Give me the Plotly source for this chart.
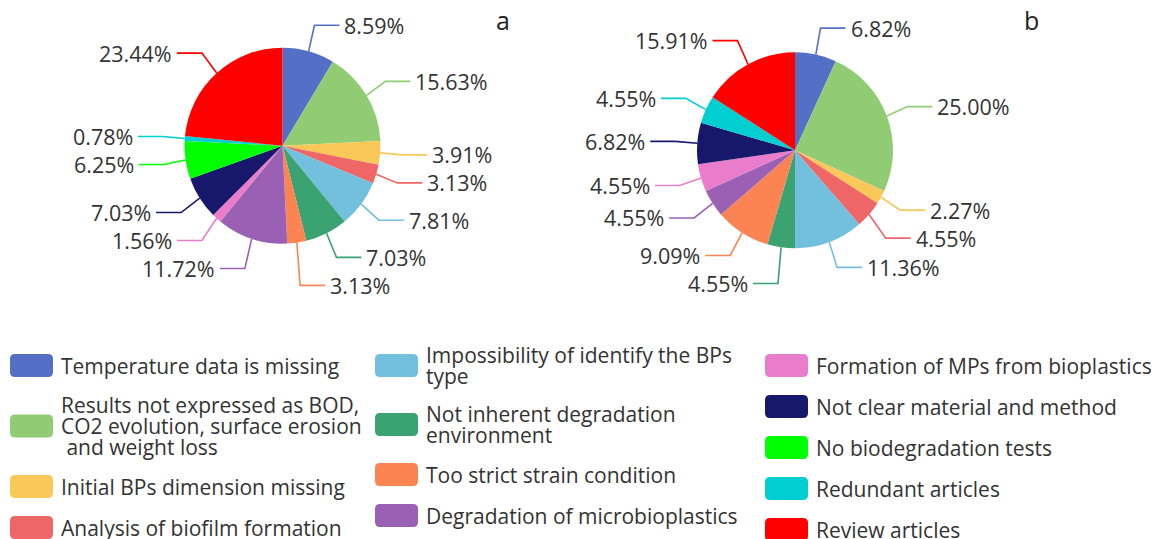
import math
import plotly.graph_objects as go

W, H = 1159, 539

# ---------------- data ----------------
categories = [
    "Temperature data is missing",
    "Results not expressed as BOD,\nCO2 evolution, surface erosion\n\u00a0and weight loss",
    "Initial BPs dimension missing",
    "Analysis of biofilm formation",
    "Impossibility of identify the BPs\ntype",
    "Not inherent degradation\nenvironment",
    "Too strict strain condition",
    "Degradation of microbioplastics",
    "Formation of MPs from bioplastics",
    "Not clear material and method",
    "No biodegradation tests",
    "Redundant articles",
    "Review articles",
]
colors = ["#5470c6", "#91cc75", "#fac858", "#ee6666", "#73c0de", "#3ba272",
          "#fc8452", "#9a60b4", "#ea7ccc", "#17176b", "#00ff00", "#00ced1", "#ff0000"]

values_a = [8.59, 15.63, 3.91, 3.13, 7.81, 7.03, 3.13, 11.72, 1.56, 7.03, 6.25, 0.78, 23.44]
values_b = [6.82, 25.00, 2.27, 4.55, 11.36, 4.55, 9.09, 4.55, 4.55, 6.82, 0.00, 4.55, 15.91]
panel_titles = ["a", "b"]
legend_columns = [[0, 1, 2, 3], [4, 5, 6, 7], [8, 9, 10, 11, 12]]

# ---------------- layout parameters ----------------
FONT = "Open Sans"
TEXT_COLOR = "#333333"
pies = [
    dict(values=values_a, cx=282.5, cy=145.7, r=98, title_xy=(503, 20)),
    dict(values=values_b, cx=795.0, cy=150.3, r=98, title_xy=(1031, 20)),
]
R_LABEL = 27     # radial offset used for label height
R_ELBOW = 22     # radial offset of elbow x
SEG2 = 25        # horizontal segment
MIN_GAP = 28     # min vertical gap between labels on one side
LABEL_SIZE = 21.5

flat_names = [c.replace("\n", " ").replace("\u00a0", "") for c in categories]

fig = go.Figure()
annotations = []
shapes = []

for p, ttl in zip(pies, panel_titles):
    vals, cx, cy, r = p["values"], p["cx"], p["cy"], p["r"]
    fig.add_trace(go.Pie(
        values=vals, labels=flat_names, sort=False, direction="clockwise", rotation=0,
        marker=dict(colors=colors, line=dict(width=0)), textinfo="none",
        domain=dict(x=[(cx - r) / W, (cx + r) / W], y=[1 - (cy + r) / H, 1 - (cy - r) / H]),
        showlegend=False, hoverinfo="label+percent",
    ))
    total = sum(vals)
    items = []
    cum = 0.0
    for i, v in enumerate(vals):
        if v <= 0:
            continue
        ang = (cum + v / 2) / total * 2 * math.pi
        cum += v
        s, c = math.sin(ang), math.cos(ang)
        items.append(dict(i=i, s=s, c=c, side=1 if s >= 0 else -1,
                          y=cy - (r + R_LABEL) * c))
    for side in (1, -1):
        grp = sorted([it for it in items if it["side"] == side], key=lambda d: d["y"])
        for k in range(1, len(grp)):
            if grp[k]["y"] < grp[k - 1]["y"] + MIN_GAP:
                grp[k]["y"] = grp[k - 1]["y"] + MIN_GAP
    for it in items:
        s, c, side, ly = it["s"], it["c"], it["side"], it["y"]
        x0, y0 = cx + r * s, cy - r * c
        xe = cx + (r + R_ELBOW) * s
        x2 = xe + side * SEG2
        fig.add_trace(go.Scatter(
            x=[x0, xe, x2], y=[y0, ly, ly], mode="lines",
            line=dict(color=colors[it["i"]], width=1.6),
            hoverinfo="skip", showlegend=False, xaxis="x", yaxis="y"))
        annotations.append(dict(
            x=x2 + side * 3, y=ly, xref="x", yref="y", showarrow=False,
            text=f"{vals[it['i']]:.2f}%", xanchor="left" if side > 0 else "right",
            yanchor="middle", font=dict(family=FONT, size=LABEL_SIZE, color=TEXT_COLOR)))
    annotations.append(dict(
        x=p["title_xy"][0], y=p["title_xy"][1], xref="x", yref="y", showarrow=False,
        text=ttl, xanchor="center", yanchor="middle",
        font=dict(family=FONT, size=25, color="#222222")))

# ---------------- legend ----------------
COL_X = [10, 375, 765]
SW_W, SW_H, SW_R = 43, 23, 5
TEXT_DX = 6
LINE_H = 21
ITEM_GAP = 17
FIRST_CENTER = 365.5
LEG_SIZE = 21


def rounded_rect(x0, y0, x1, y1, rr):
    return (f"M {x0+rr},{y0} L {x1-rr},{y0} Q {x1},{y0} {x1},{y0+rr} "
            f"L {x1},{y1-rr} Q {x1},{y1} {x1-rr},{y1} L {x0+rr},{y1} "
            f"Q {x0},{y1} {x0},{y1-rr} L {x0},{y0+rr} Q {x0},{y0} {x0+rr},{y0} Z")


for col, idxs in zip(COL_X, legend_columns):
    yc = None
    prev_h = None
    for idx in idxs:
        lines = categories[idx].split("\n")
        h = max(SW_H + 1, len(lines) * LINE_H)
        if yc is None:
            yc = FIRST_CENTER
        else:
            yc = yc + prev_h / 2 + ITEM_GAP + h / 2
        prev_h = h
        shapes.append(dict(type="path", xref="x", yref="y",
                           path=rounded_rect(col, yc - SW_H / 2, col + SW_W, yc + SW_H / 2, SW_R),
                           fillcolor=colors[idx], line=dict(width=0)))
        n = len(lines)
        for k, ln in enumerate(lines):
            ty = yc + (k - (n - 1) / 2) * LINE_H
            annotations.append(dict(
                x=col + SW_W + TEXT_DX, y=ty, xref="x", yref="y", showarrow=False,
                text=ln, xanchor="left", yanchor="middle",
                font=dict(family=FONT, size=LEG_SIZE, color=TEXT_COLOR)))

fig.update_layout(
    width=W, height=H, margin=dict(l=0, r=0, t=0, b=0),
    paper_bgcolor="white", plot_bgcolor="white", showlegend=False,
    xaxis=dict(range=[0, W], visible=False, fixedrange=True, domain=[0, 1]),
    yaxis=dict(range=[H, 0], visible=False, fixedrange=True, domain=[0, 1]),
    annotations=annotations, shapes=shapes,
)

fig.write_html(
    "out.html",
    config={"displayModeBar": False},
    post_script="document.body.style.margin='0';document.body.style.overflow='hidden';",
)
